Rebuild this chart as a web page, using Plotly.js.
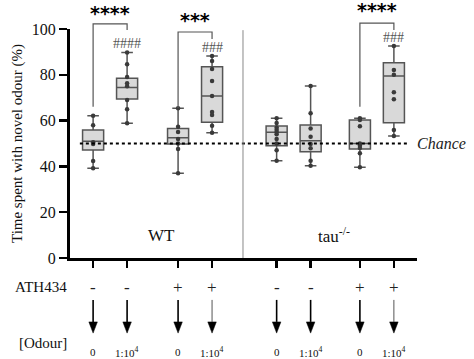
<!DOCTYPE html>
<html><head><meta charset="utf-8">
<script src="https://cdn.plot.ly/plotly-3.0.1.min.js"></script>
<style>body{margin:0;background:#fff}#c{width:474px;height:359px}</style>
</head><body><div id="c"></div>
<script>
// Group positions and labels
const positions = [1, 2, 3.5, 4.5, 6.4, 7.4, 8.85, 9.85];
const athLabels = ['-', '-', '+', '+', '-', '-', '+', '+'];
const odourLabels = ['0', '1:10<sup>4</sup>', '0', '1:10<sup>4</sup>', '0', '1:10<sup>4</sup>', '0', '1:10<sup>4</sup>'];
const genotypeLabels = ['WT', 'tau<sup>-/-</sup>'];
const genotypePos = [3.0, 8.1];

// Box statistics (% time with novel odour)
const q1 = [47.2, 69.4, 49.8, 59.3, 49.0, 46.4, 47.6, 59.1];
const median = [51.0, 74.5, 52.5, 70.7, 54.9, 51.2, 50.0, 79.5];
const q3 = [55.9, 78.5, 56.6, 83.5, 57.6, 58.1, 60.3, 85.3];
const lowerfence = [39.2, 58.8, 37.0, 54.7, 42.5, 40.3, 39.6, 53.3];
const upperfence = [62.1, 89.7, 65.4, 88.2, 61.0, 75.1, 61.0, 92.6];

// Individual animals
const pts1 = [62.1, 58.0, 50.5, 49.8, 42.4, 39.2];
const pts2 = [89.7, 84.6, 79.0, 76.3, 75.0, 69.0, 65.0, 58.8];
const pts3 = [65.4, 57.3, 55.0, 52.0, 50.0, 47.6, 37.0];
const pts4 = [88.2, 86.0, 82.5, 77.3, 70.7, 63.8, 62.4, 57.8, 54.7];
const pts5 = [61.0, 59.0, 57.0, 56.0, 55.0, 54.0, 52.0, 50.0, 47.0, 42.5];
const pts6 = [75.1, 63.2, 56.6, 53.0, 49.8, 47.9, 42.5, 40.3];
const pts7 = [61.0, 60.3, 57.5, 50.0, 49.0, 48.0, 45.7, 39.6];
const pts8 = [92.6, 82.1, 80.0, 72.4, 69.3, 55.9, 53.3];
const allPts = [pts1, pts2, pts3, pts4, pts5, pts6, pts7, pts8];

const chance = 50;

// Significance comparisons: [left group, right group, stars, hashes, bracket top, left leg bottom, right leg bottom]
const sigPairs = [
  [0, 1, '****', '####', 102.2, 66.0, 99.6],
  [2, 3, '***', '###', 98.7, 65.5, 95.6],
  [6, 7, '****', '###', 102.6, 66.0, 99.6]
];
const starY = [107.0, 103.8, 108.2];
const hashY = [93.8, 92.0, 96.2];

const serif = 'Liberation Serif, Times New Roman, serif';

const ptX = [], ptY = [];
allPts.forEach((arr, i) => arr.forEach(v => { ptX.push(positions[i]); ptY.push(v); }));

const traces = [
  {
    type: 'box', x: positions, q1: q1, median: median, q3: q3,
    lowerfence: lowerfence, upperfence: upperfence,
    width: 0.62, whiskerwidth: 0.55, boxpoints: false,
    fillcolor: '#d9d9d9', line: {color: '#555555', width: 1.5},
    hoverinfo: 'skip', showlegend: false
  },
  {
    type: 'scatter', mode: 'markers', x: ptX, y: ptY,
    marker: {color: '#3a3a3a', size: 4.5}, showlegend: false, hoverinfo: 'skip'
  }
];

const shapes = [];
const annotations = [];
const P = v => v / 100; // y range is 0..100

// Chance line
shapes.push({type: 'line', xref: 'x', yref: 'y', x0: 0.61, x1: 10.32, y0: chance, y1: chance,
  line: {color: '#000', width: 2, dash: 'dot'}});
annotations.push({xref: 'paper', yref: 'y', x: 0.993, y: chance, xanchor: 'left', yanchor: 'middle',
  text: '<i>Chance</i>', showarrow: false, font: {family: serif, size: 16, color: '#222'}});

// Separator between genotypes
shapes.push({type: 'line', xref: 'x', yref: 'paper', x0: 5.41, x1: 5.41, y0: 0, y1: 0.995,
  line: {color: '#888', width: 1}});

// Genotype labels
genotypeLabels.forEach((t, i) => annotations.push({xref: 'x', yref: 'y', x: genotypePos[i], y: 10,
  xanchor: 'center', yanchor: 'middle',
  text: t, showarrow: false, font: {family: serif, size: 17, color: '#111'}}));

// Brackets and significance
sigPairs.forEach((s, k) => {
  const xl = positions[s[0]], xr = positions[s[1]];
  shapes.push({type: 'path', xref: 'x', yref: 'paper',
    path: `M ${xl} ${P(s[5])} L ${xl} ${P(s[4])} L ${xr} ${P(s[4])} L ${xr} ${P(s[6])}`,
    line: {color: '#555', width: 1.2}});
  annotations.push({xref: 'x', yref: 'paper', x: (xl + xr) / 2, y: P(starY[k]),
    xanchor: 'center', yanchor: 'middle', text: '<b>' + s[2] + '</b>',
    showarrow: false, font: {family: 'DejaVu Sans, Liberation Sans, sans-serif', size: 19, color: '#000'}});
  annotations.push({xref: 'x', yref: 'paper', x: xr, y: P(hashY[k]), xanchor: 'center', yanchor: 'middle',
    text: s[3], showarrow: false, font: {family: serif, size: 14, color: '#555'}});
});

// Treatment rows below the axis
annotations.push({xref: 'paper', yref: 'paper', x: -0.084, y: -0.127, xanchor: 'center', yanchor: 'middle',
  text: 'ATH434', showarrow: false, font: {family: serif, size: 15, color: '#111'}});
annotations.push({xref: 'paper', yref: 'paper', x: -0.079, y: -0.371, xanchor: 'center', yanchor: 'middle',
  text: '[Odour]', showarrow: false, font: {family: serif, size: 15, color: '#111'}});
const arrowTop = -0.183, arrowBase = -0.279, arrowTip = -0.328, headHalf = 0.125;
positions.forEach((x, i) => {
  annotations.push({xref: 'x', yref: 'paper', x: x, y: -0.127, xanchor: 'center', yanchor: 'middle',
    text: athLabels[i], showarrow: false, font: {family: serif, size: 17, color: '#222'}});
  const thin = (i === 3 || i === 7);
  shapes.push({type: 'line', xref: 'x', yref: 'paper', x0: x, x1: x, y0: arrowTop, y1: arrowBase,
    line: {color: thin ? '#555' : '#000', width: thin ? 1 : 1.6}});
  shapes.push({type: 'path', xref: 'x', yref: 'paper',
    path: `M ${x - headHalf} ${arrowBase} L ${x + headHalf} ${arrowBase} L ${x} ${arrowTip} Z`,
    fillcolor: '#000', line: {color: '#000', width: 0.5}});
  annotations.push({xref: 'x', yref: 'paper', x: x, y: -0.41, xanchor: 'center', yanchor: 'middle',
    text: odourLabels[i], showarrow: false, font: {family: serif, size: 11, color: '#111'}});
});

const layout = {
  width: 474, height: 359,
  margin: {l: 70, r: 57, t: 29, b: 101},
  paper_bgcolor: '#fff', plot_bgcolor: '#fff',
  showlegend: false,
  xaxis: {range: [0.32, 10.53], showgrid: false, zeroline: false, showline: true,
    linecolor: '#000', linewidth: 2.5, ticks: 'outside', ticklen: 7, tickwidth: 2.5, tickcolor: '#000',
    tickvals: positions, showticklabels: false, fixedrange: true},
  yaxis: {range: [0, 100], showgrid: false, zeroline: false, showline: true,
    linecolor: '#000', linewidth: 3, ticks: 'outside', ticklen: 8, tickwidth: 2.5, tickcolor: '#000',
    tickvals: [0, 20, 40, 60, 80, 100], tickfont: {family: serif, size: 16, color: '#111'},
    title: {text: 'Time spent with novel odour (%)', font: {family: serif, size: 15, color: '#111'}, standoff: 6},
    fixedrange: true},
  shapes: shapes, annotations: annotations
};

Plotly.newPlot('c', traces, layout, {displayModeBar: false, staticPlot: true});
</script></body></html>
